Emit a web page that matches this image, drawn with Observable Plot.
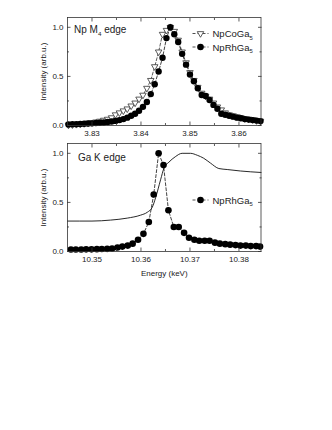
<!DOCTYPE html>
<html><head><meta charset="utf-8">
<script src="https://cdn.jsdelivr.net/npm/d3@7"></script>
<script src="https://cdn.jsdelivr.net/npm/@observablehq/plot@0.6"></script>
<style>
html,body{margin:0;padding:0;background:#fff;}
body{width:332px;height:430px;overflow:hidden;position:relative;font-family:"Liberation Sans",Arial,Helvetica,sans-serif;}
#top{position:absolute;left:0;top:0;}
#bot{position:absolute;left:0;top:140px;}
</style></head><body>
<div id="top"></div><div id="bot"></div>
<script>
// ---- Np M4 edge (top panel) ----
const mEnergy = [3.8252,3.8260,3.8268,3.8276,3.8284,3.8292,3.8300,3.8308,3.8316,3.8324,3.8332,3.8340,3.8348,3.8356,3.8364,3.8372,3.8380,3.8388,3.8396,3.8404,3.8412,3.8420,3.8428,3.8436,3.8444,3.8452,3.8460,3.8468,3.8476,3.8484,3.8492,3.8500,3.8508,3.8516,3.8524,3.8532,3.8540,3.8548,3.8556,3.8564,3.8572,3.8580,3.8588,3.8596,3.8604,3.8612,3.8620,3.8628,3.8636,3.8644];
const coIntensity = [0.005,0.008,0.012,0.016,0.02,0.025,0.03,0.037,0.045,0.055,0.065,0.08,0.11,0.13,0.15,0.17,0.20,0.23,0.27,0.31,0.38,0.46,0.60,0.75,0.93,0.97,1.00,0.96,0.87,0.75,0.64,0.54,0.46,0.39,0.33,0.30,0.27,0.23,0.19,0.16,0.13,0.11,0.10,0.09,0.08,0.07,0.065,0.06,0.05,0.045];
const rhIntensity = [0.010,0.012,0.014,0.016,0.018,0.020,0.022,0.025,0.028,0.031,0.035,0.040,0.047,0.055,0.065,0.080,0.10,0.12,0.15,0.19,0.24,0.32,0.42,0.55,0.69,0.89,1.00,0.93,0.85,0.73,0.62,0.52,0.45,0.38,0.31,0.30,0.26,0.21,0.17,0.12,0.11,0.10,0.09,0.08,0.075,0.065,0.06,0.055,0.05,0.045];
const mErrX = [3.8460];
const mErrLo = [0.975];
const mErrHi = [1.03];

// ---- Ga K edge (bottom panel) ----
const kEnergy = [10.3457,10.3467,10.3478,10.3488,10.3499,10.3510,10.3520,10.3531,10.3541,10.3552,10.3562,10.3573,10.3583,10.3594,10.3605,10.3616,10.3626,10.3636,10.3646,10.3656,10.3667,10.3677,10.3688,10.3698,10.3709,10.3719,10.3730,10.3740,10.3751,10.3761,10.3772,10.3782,10.3793,10.3803,10.3814,10.3824,10.3835,10.3843];
const kRhIntensity = [0.02,0.02,0.02,0.022,0.022,0.024,0.025,0.027,0.03,0.04,0.05,0.06,0.08,0.12,0.18,0.30,0.58,1.00,0.88,0.42,0.25,0.25,0.19,0.14,0.12,0.11,0.11,0.11,0.09,0.08,0.075,0.07,0.065,0.06,0.06,0.055,0.055,0.05];
const absEnergy = [10.3450,10.3500,10.3538,10.3572,10.3599,10.3613,10.3623,10.3630,10.3640,10.3647,10.3657,10.3670,10.3684,10.3701,10.3715,10.3728,10.3742,10.3759,10.3776,10.3803,10.3845];
const absIntensity = [0.31,0.31,0.32,0.34,0.37,0.40,0.45,0.55,0.73,0.85,0.91,0.965,1.0,1.0,0.98,0.95,0.90,0.845,0.835,0.82,0.805];

// ---- axes ----
const topXTicks = [3.83,3.84,3.85,3.86];
const topXMinor = [3.835,3.845,3.855];
const botXTicks = [10.35,10.36,10.37,10.38];
const botXMinor = [10.355,10.365,10.375];
const yTicks = [0,0.5,1.0];
const yMinor = [0.25,0.75];

const FONT = '"Liberation Sans", Arial, Helvetica, sans-serif';
const INK = "#222";

const downTriangle = {
  draw(ctx, size) {
    const r = Math.sqrt(size / Math.PI) * 1.25;
    const h = r * Math.sqrt(3) / 2;
    ctx.moveTo(0, r); ctx.lineTo(-h, -r / 2); ctx.lineTo(h, -r / 2); ctx.closePath();
  }
};

const mCo = mEnergy.map((e, i) => ({e, v: coIntensity[i]}));
const mRh = mEnergy.map((e, i) => ({e, v: rhIntensity[i]}));
const mErr = mErrX.map((e, i) => ({e, lo: mErrLo[i], hi: mErrHi[i]}));
const kRh = kEnergy.map((e, i) => ({e, v: kRhIntensity[i]}));
const kAbs = absEnergy.map((e, i) => ({e, v: absIntensity[i]}));

function axes(xTicks, xMinor) {
  const t = {label: null, fill: "none", stroke: "#333", strokeWidth: 0.8};
  return [
    Plot.axisX(xTicks, {...t, anchor: "bottom", tickSize: 3.5, dy: -3.5}),
    Plot.axisX(xMinor, {...t, anchor: "bottom", tickSize: 2, dy: -2}),
    Plot.axisX(xTicks, {...t, anchor: "top", tickSize: 3.5, dy: 3.5}),
    Plot.axisX(xMinor, {...t, anchor: "top", tickSize: 2, dy: 2}),
    Plot.axisY(yTicks, {...t, anchor: "left", tickSize: 3.5, dx: 3.5}),
    Plot.axisY(yMinor, {...t, anchor: "left", tickSize: 2, dx: 2}),
    Plot.axisY(yTicks, {...t, anchor: "right", tickSize: 3.5, dx: -3.5}),
    Plot.axisY(yMinor, {...t, anchor: "right", tickSize: 2, dx: -2}),
    Plot.axisX(xTicks, {anchor: "bottom", tickSize: 0, tickPadding: 5, label: null, fill: INK, tickFormat: d => d.toFixed(2)}),
    Plot.axisY(yTicks, {anchor: "left", tickSize: 0, tickPadding: 4, label: null, fill: INK, tickFormat: d => d.toFixed(1)}),
    Plot.text(["Intensity (arb.u.)"], {frameAnchor: "left", dx: -24, rotate: -90, textAnchor: "middle", text: d => d, fill: INK, fontSize: 8})
  ];
}

const common = {
  width: 332, marginLeft: 67, marginRight: 71.5,
  style: {fontFamily: FONT, fontSize: "8px", color: INK, background: "#fff"},
  y: {domain: [0, 1.1], label: null}
};

const topPlot = Plot.plot({
  ...common,
  height: 140, marginTop: 17, marginBottom: 15,
  x: {domain: [3.825, 3.8645], label: null},
  marks: [
    Plot.line(mCo, {x: "e", y: "v", stroke: "#333", strokeWidth: 0.8, strokeDasharray: "3,2"}),
    Plot.line(mRh, {x: "e", y: "v", stroke: "#111", strokeWidth: 0.8, strokeDasharray: "3,2"}),
    Plot.ruleX(mErr, {x: "e", y1: "lo", y2: "hi", stroke: "#333", strokeWidth: 0.8}),
    Plot.dot(mCo, {x: "e", y: "v", r: 3, symbol: downTriangle, fill: "white", stroke: "#333", strokeWidth: 0.8}),
    Plot.dot(mRh, {x: "e", y: "v", r: 3.2, fill: "#000", stroke: "none"}),
    Plot.frame({stroke: "#333", strokeWidth: 0.8}),
    ...axes(topXTicks, topXMinor)
  ]
});

const botPlot = Plot.plot({
  ...common,
  height: 150, marginTop: 3, marginBottom: 39,
  x: {domain: [10.345, 10.3845], label: null},
  marks: [
    Plot.line(kAbs, {x: "e", y: "v", stroke: "#111", strokeWidth: 0.9, curve: "monotone-x"}),
    Plot.line(kRh, {x: "e", y: "v", stroke: "#111", strokeWidth: 0.8, strokeDasharray: "3,2"}),
    Plot.dot(kRh, {x: "e", y: "v", r: 3.3, fill: "#000", stroke: "none"}),
    Plot.frame({stroke: "#333", strokeWidth: 0.8}),
    ...axes(botXTicks, botXMinor),
    Plot.text(["Energy (keV)"], {frameAnchor: "bottom", dy: 24, text: d => d, fill: INK, fontSize: 8})
  ]
});

document.getElementById("top").append(topPlot);
document.getElementById("bot").append(botPlot);

// ---- annotations and legends (real text with subscripts) ----
function label(svg, x, y, parts, size) {
  const t = d3.select(svg).append("text")
    .attr("x", x).attr("y", y).attr("fill", INK)
    .attr("text-anchor", "start")
    .style("text-anchor", "start")
    .attr("font-family", FONT).attr("font-size", size);
  let shifted = false;
  for (const [s, sub] of parts) {
    const ts = t.append("tspan").text(s);
    if (sub) { ts.attr("font-size", size * 0.62).attr("dy", size * 0.28); shifted = true; }
    else if (shifted) { ts.attr("dy", -size * 0.28); shifted = false; }
  }
}
function legendRow(svg, x, y, kind) {
  const g = d3.select(svg).append("g");
  g.append("line").attr("x1", x - 8).attr("x2", x + 8).attr("y1", y).attr("y2", y)
    .attr("stroke", "#222").attr("stroke-width", 0.8).attr("stroke-dasharray", "3,2");
  if (kind === "tri") {
    const p = d3.path(); downTriangle.draw(p, Math.PI * 9);
    g.append("path").attr("d", p.toString()).attr("transform", `translate(${x},${y})`)
      .attr("fill", "white").attr("stroke", "#333").attr("stroke-width", 0.8);
  } else {
    g.append("circle").attr("cx", x).attr("cy", y).attr("r", 3.3).attr("fill", "#000");
  }
}

const legendCo = [["NpCoGa", false], ["5", true]];
const legendRh = [["NpRhGa", false], ["5", true]];

label(topPlot, 74, 33, [["Np M", false], ["4", true], [" edge", false]], 10);
legendRow(topPlot, 200.5, 33.5, "tri");
label(topPlot, 212.5, 37, legendCo, 9.5);
legendRow(topPlot, 200.5, 47, "dot");
label(topPlot, 212.5, 50.5, legendRh, 9.5);

label(botPlot, 78, 20.5, [["Ga K edge", false]], 10);
legendRow(botPlot, 200.5, 60, "dot");
label(botPlot, 212.5, 63.5, legendRh, 9.5);
</script>
</body></html>
